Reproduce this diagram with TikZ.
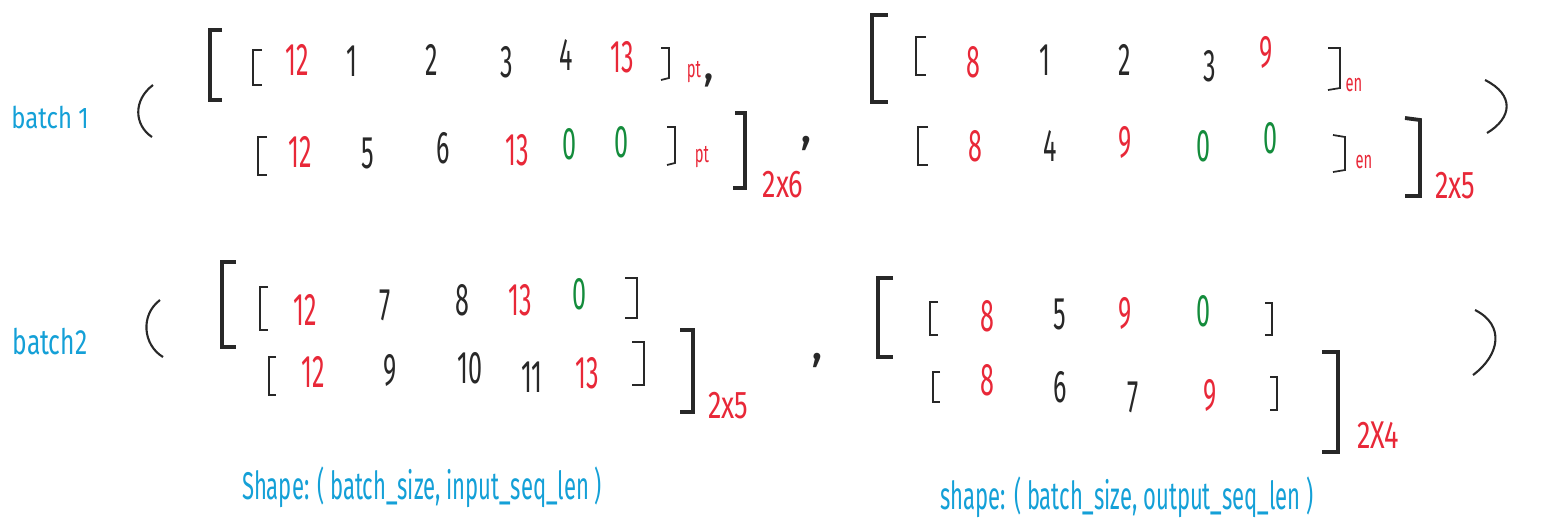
\documentclass[tikz,border=0pt]{standalone}
\usepackage{fontspec}
\setmainfont{Fira Sans}
\usepackage{graphicx}
\usetikzlibrary{positioning}
\definecolor{inkred}{RGB}{232,40,56}
\definecolor{inkgreen}{RGB}{20,140,60}
\definecolor{inkblue}{RGB}{20,160,215}
\definecolor{inkblack}{RGB}{40,40,40}
\newcommand{\squeeze}[2][0.55]{\scalebox{#1}[1]{#2}}
\tikzstyle{num} = [inner sep=0pt, font=\fontsize{13}{15}\selectfont, text=inkblack]
\tikzstyle{sub} = [inner sep=0pt, font=\fontsize{7}{8}\selectfont, text=inkred]
\tikzstyle{dims} = [inner sep=0pt, font=\fontsize{11}{13}\selectfont, text=inkred]
\tikzstyle{tag} = [inner sep=0pt, font=\fontsize{8.5}{10}\selectfont, text=inkblue]
\tikzstyle{note} = [inner sep=0pt, font=\fontsize{11}{13}\selectfont, text=inkblue]
\tikzstyle{bigbrk} = [line width=1.1pt, inkblack]
\tikzstyle{brk} = [line width=0.5pt, inkblack]
\tikzstyle{paren} = [line width=0.6pt, inkblack]

\begin{document}
\begin{tikzpicture}[x=0.01cm, y=-0.01cm]
			\useasboundingbox (0,0) rectangle (1564,520);
			% labels
			\node[tag] (b1) at (50,117) {\squeeze[0.8]{batch 1}};
			\node[tag, font=\fontsize{10}{12}\selectfont] (b2) at (50,342) {\squeeze[0.7]{batch2}};
			% batch 1, input
			\draw[paren] (153,85) .. controls (133,100) and (134,125) .. (152,137);
			\draw[bigbrk] (222,30) -- (210,30) -- (210,100) -- (222,100);
			\draw[brk] (262,50) -- (253,50) -- (253,85) -- (262,85);
			\foreach \x/\y/\t/\c [count=\i] in {297/60/12/inkred, 352/61/1/inkblack, 432/60/2/inkblack, 507/62/3/inkblack, 566/55/4/inkblack, 622/57/13/inkred}
				\node[num, text=\c] (pa\i) at (\x,\y) {\squeeze{\t}};
			\draw[brk] (661,48) -- (669,48) -- (669,78) -- (661,80);
			\node[sub] (pta) at (694,72) {\squeeze[0.6]{pt}};
			\node[num] (ca) at (709,80) {,};
			\draw[brk] (267,137) -- (258,137) -- (258,175) -- (267,175);
			\foreach \x/\y/\t/\c [count=\i] in {300/152/12/inkred, 368/153/5/inkblack, 443/148/6/inkblack, 517/150/13/inkred, 570/144/0/inkgreen, 622/142/0/inkgreen}
				\node[num, text=\c] (pb\i) at (\x,\y) {\squeeze{\t}};
			\draw[brk] (667,127) -- (675,127) -- (675,163) -- (667,165);
			\node[sub] (ptb) at (702,157) {\squeeze[0.6]{pt}};
			\draw[bigbrk] (735,113) -- (745,113) -- (745,188) -- (733,188);
			\node[dims] (da) at (783,185) {\squeeze[0.7]{2x6}};
			\node[num, font=\fontsize{14}{16}\selectfont] (cb) at (806,143) {,};
			% batch 1, output
			\draw[bigbrk] (888,15) -- (872,15) -- (872,102) -- (888,102);
			\draw[brk] (926,37) -- (916,37) -- (916,75) -- (926,75);
			\foreach \x/\y/\t/\c [count=\i] in {973/62/8/inkred, 1045/60/1/inkblack, 1125/60/2/inkblack, 1210/66/3/inkblack, 1266/52/9/inkred}
				\node[num, text=\c] (ea\i) at (\x,\y) {\squeeze{\t}};
			\draw[brk] (1328,48) -- (1340,48) -- (1340,88) -- (1328,90);
			\node[sub] (ena) at (1354,85) {\squeeze[0.6]{en}};
			\draw[brk] (928,127) -- (918,127) -- (918,165) -- (928,165);
			\foreach \x/\y/\t/\c [count=\i] in {975/146/8/inkred, 1050/146/4/inkblack, 1125/142/9/inkred, 1203/146/0/inkgreen, 1270/138/0/inkgreen}
				\node[num, text=\c] (eb\i) at (\x,\y) {\squeeze{\t}};
			\draw[brk] (1333,135) -- (1345,137) -- (1345,170) -- (1333,172);
			\node[sub] (enb) at (1364,162) {\squeeze[0.6]{en}};
			\draw[bigbrk] (1405,118) -- (1420,120) -- (1420,196) -- (1405,196);
			\node[dims] (db) at (1455,186) {\squeeze[0.7]{2x5}};
			\draw[paren] (1485,80) .. controls (1515,95) and (1512,118) .. (1487,133);
			% batch 2, input
			\draw[paren] (160,300) .. controls (140,315) and (143,345) .. (163,357);
			\draw[bigbrk] (236,262) -- (222,262) -- (222,347) -- (236,347);
			\draw[brk] (268,287) -- (260,287) -- (260,330) -- (268,330);
			\foreach \x/\y/\t/\c [count=\i] in {305/310/12/inkred, 385/305/7/inkblack, 462/300/8/inkblack, 520/300/13/inkred, 580/294/0/inkgreen}
				\node[num, text=\c] (qa\i) at (\x,\y) {\squeeze{\t}};
			\draw[brk] (625,278) -- (637,278) -- (637,318) -- (625,318);
			\draw[brk] (276,357) -- (269,357) -- (269,395) -- (276,395);
			\foreach \x/\y/\t/\c [count=\i] in {313/372/12/inkred, 390/370/9/inkblack, 470/368/10/inkblack, 532/377/11/inkblack, 587/373/13/inkred}
				\node[num, text=\c] (qb\i) at (\x,\y) {\squeeze{\t}};
			\draw[brk] (632,342) -- (644,342) -- (644,385) -- (632,385);
			\draw[bigbrk] (680,330) -- (693,330) -- (693,412) -- (680,412);
			\node[dims] (dc) at (728,406) {\squeeze[0.7]{2x5}};
			\node[num, font=\fontsize{14}{16}\selectfont] (cc) at (817,360) {,};
			% batch 2, output
			\draw[bigbrk] (893,278) -- (878,278) -- (878,357) -- (893,357);
			\draw[brk] (938,302) -- (930,302) -- (930,335) -- (938,335);
			\foreach \x/\y/\t/\c [count=\i] in {987/316/8/inkred, 1060/314/5/inkblack, 1125/313/9/inkred, 1203/311/0/inkgreen}
				\node[num, text=\c] (fa\i) at (\x,\y) {\squeeze{\t}};
			\draw[brk] (1265,303) -- (1272,303) -- (1272,335) -- (1265,335);
			\draw[brk] (940,372) -- (933,372) -- (933,402) -- (940,402);
			\foreach \x/\y/\t/\c [count=\i] in {987/380/8/inkred, 1060/387/6/inkblack, 1133/397/7/inkblack, 1210/395/9/inkred}
				\node[num, text=\c] (fb\i) at (\x,\y) {\squeeze{\t}};
			\draw[brk] (1270,377) -- (1277,377) -- (1277,410) -- (1270,410);
			\draw[bigbrk] (1322,352) -- (1338,352) -- (1338,452) -- (1322,452);
			\node[dims] (dd) at (1378,435) {\squeeze[0.7]{2X4}};
			\draw[paren] (1475,310) .. controls (1505,325) and (1500,355) .. (1473,375);
			% shapes
			\node[note] (sa) at (422,487) {\squeeze[0.57]{Shape: ( batch\_size, input\_seq\_len )}};
			\node[note] (sb) at (1127,497) {\squeeze[0.57]{shape: ( batch\_size, output\_seq\_len )}};
			\end{tikzpicture}
\end{document}
